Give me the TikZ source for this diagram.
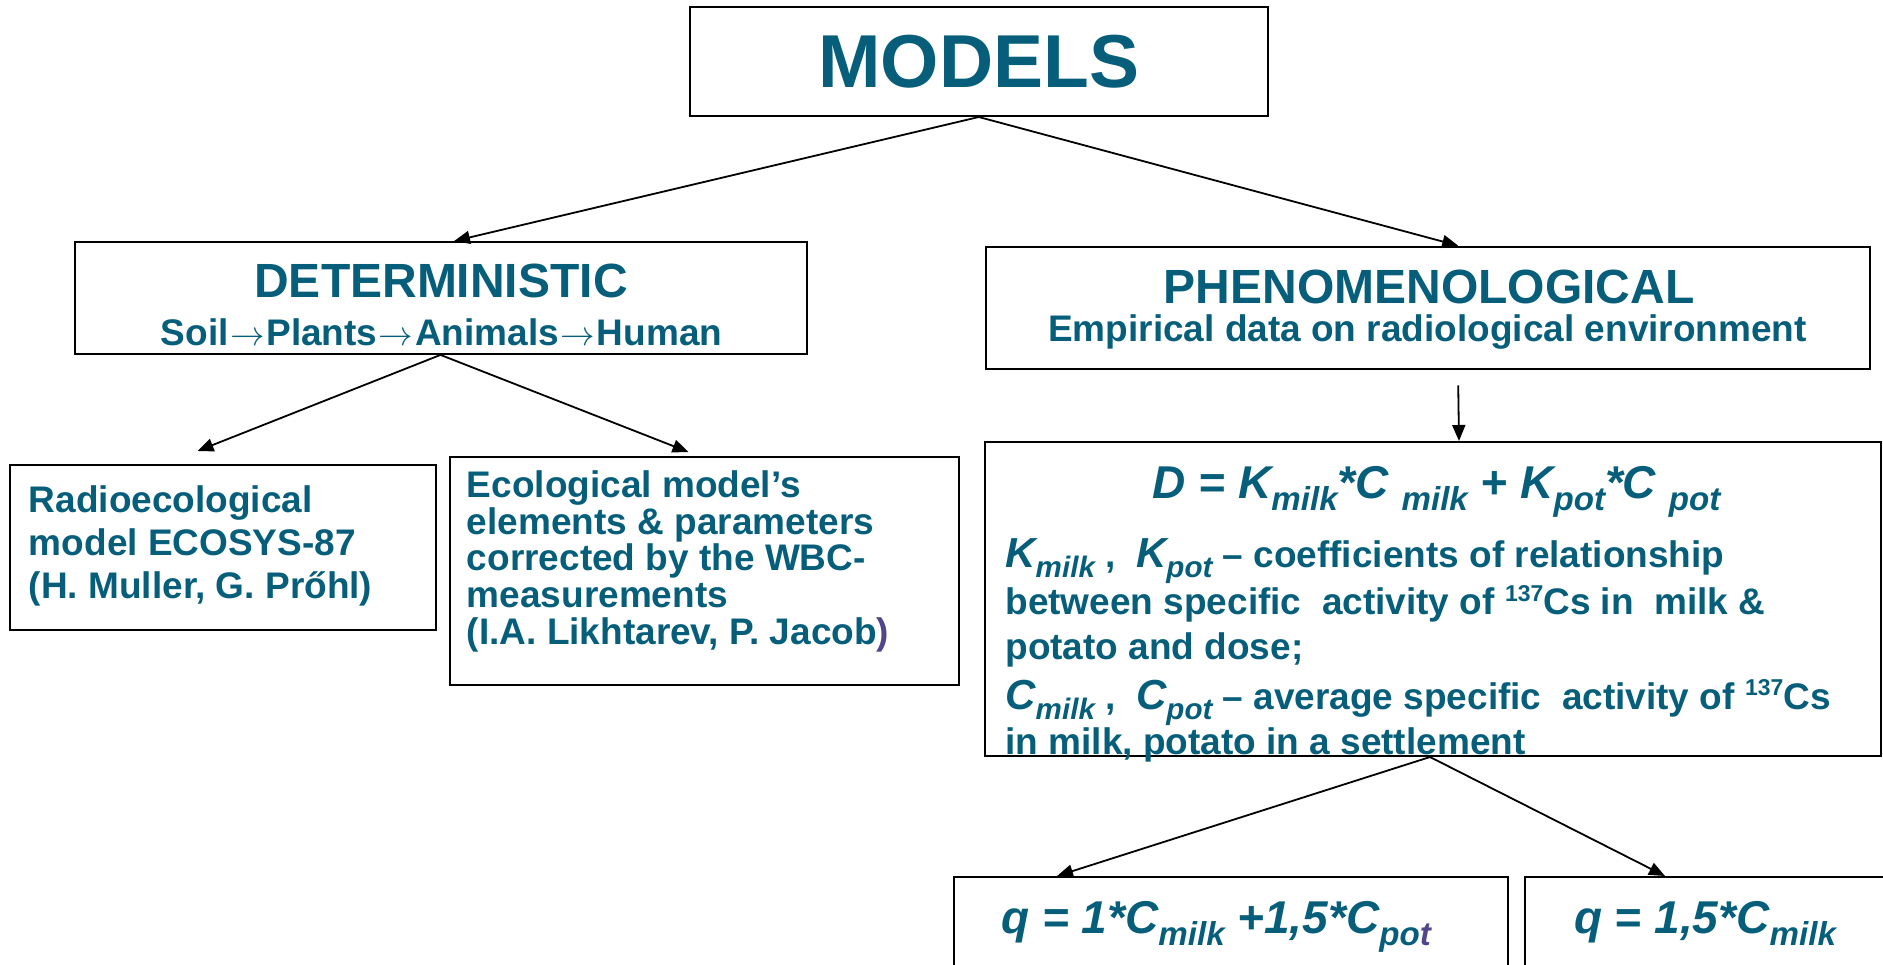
\documentclass[tikz,border=0pt]{standalone}
\usepackage{fontspec}
\setmainfont{Liberation Sans}
\usetikzlibrary{arrows.meta}
\definecolor{modteal}{RGB}{6,94,122}
\definecolor{modpurple}{RGB}{80,70,140}
\newcommand{\lowtx}[2][0.72]{\raisebox{-0.5ex}{\scalebox{#1}{\itshape #2}}}
\newcommand{\hightx}[1]{\raisebox{0.7ex}{\scalebox{0.62}{#1}}}
\newcommand{\bigsym}[1]{{\fontsize{21}{22}\selectfont\itshape #1}}
\newcommand{\chainarr}{\kern0.8pt$\rightarrow$\kern0.8pt}
\tikzset{
  box/.style={draw, line width=1pt, inner sep=0pt},
  txt/.style={text=modteal, inner sep=0pt, font=\bfseries\fontsize{18.5}{21.6}\selectfont},
  head/.style={txt, font=\bfseries\fontsize{24}{28}\selectfont},
  eqn/.style={txt, font=\bfseries\itshape\fontsize{23}{27}\selectfont},
  link/.style={-{Triangle[length=8pt,width=6.5pt]}, line width=0.9pt},
}
\begin{document}
\begin{tikzpicture}[x=0.5pt, y=-0.5pt]
  \clip (0,0) rectangle (1883,964);
  % boxes
  \node[box, txt, minimum width=289.2pt, minimum height=54.7pt,
        font=\bfseries\fontsize{37.5}{40}\selectfont] (models) at (978.8,61.3) {MODELS};
  \node[box, minimum width=366pt, minimum height=55.9pt] (det) at (440.5,298) {};
  \node[box, minimum width=441.9pt, minimum height=61.3pt] (phen) at (1427.7,308) {};
  \node[box, minimum width=213pt, minimum height=82.5pt] (radio) at (222.5,547.5) {};
  \node[box, minimum width=254.5pt, minimum height=114pt] (eco) at (704.5,571) {};
  \node[box, minimum width=448pt, minimum height=157pt] (formula) at (1433,599) {};
  \node[box, minimum width=277pt, minimum height=61.5pt] (qone) at (1231,938.5) {};
  \node[box, minimum width=200pt, minimum height=61.5pt] (qtwo) at (1725,938.5) {};
  % texts
  \node[head, anchor=base] (detA) at (441,297) {DETERMINISTIC};
  \node[txt, anchor=base] (detB) at (441.5,345) {Soil\chainarr Plants\chainarr Animals\chainarr Human};
  \node[head, anchor=base] (phenA) at (1429,303.3) {PHENOMENOLOGICAL};
  \node[txt, anchor=base] (phenB) at (1427.5,341.7) {Empirical data on radiological environment};
  \node[txt, align=left, anchor=north west] (radioT) at (28.5,485.2)
    {Radioecological\\model ECOSYS-87\\(H. Muller, G. Prőhl)};
  \node[txt, align=left, anchor=north west, font=\bfseries\fontsize{18.5}{18.35}\selectfont] (ecoT) at (466.5,470.2)
    {Ecological model’s\\elements \& parameters\\corrected by the WBC-\\measurements\\(I.A. Likhtarev, P. Jacob\textcolor{modpurple}{)}};
  \node[eqn, anchor=base] (formD) at (1436.5,498)
    {D = K\lowtx{milk}*C \lowtx{milk} + K\lowtx{pot}*C \lowtx{pot}};
  \node[txt, align=left, anchor=north west, font=\bfseries\fontsize{18.5}{22.3}\selectfont] (formT) at (1005,538)
    {\bigsym{K}\lowtx[0.8]{milk} ,\ \ \bigsym{K}\lowtx[0.8]{pot} – coefficients of relationship\\
     between specific\ \ activity of \hightx{137}Cs in\ \ milk \&\\
     potato and dose;\\[2.7pt]
     \bigsym{C}\lowtx[0.8]{milk} ,\ \ \bigsym{C}\lowtx[0.8]{pot} – average specific\ \ activity of \hightx{137}Cs\\
     in milk, potato in a settlement};
  \node[eqn, anchor=base] (qoneT) at (1216,933) {q = 1*C\lowtx{milk} +1,5*C\lowtx{po\textcolor{modpurple}{t}}};
  \node[eqn, anchor=base] (qtwoT) at (1705,933) {q = 1,5*C\lowtx{milk}};
  % connectors
  \draw[link] (models.south) -- ([xshift=6.75pt]det.north);
  \draw[link] (models.south) -- ([xshift=15.25pt]phen.north);
  \draw[link] (det.south) -- ([xshift=-12.5pt,yshift=6.5pt]radio.north);
  \draw[link] (det.south) -- ([xshift=-8pt,yshift=2pt]eco.north);
  \draw[link] ([xshift=15.25pt,yshift=-7.5pt]phen.south) -- ([xshift=13pt]formula.north);
  \draw[link] ([xshift=-1.5pt]formula.south) -- ([xshift=-87pt]qone.north);
  \draw[link] ([xshift=-1.5pt]formula.south) -- ([xshift=-30pt]qtwo.north);
\end{tikzpicture}
\end{document}
